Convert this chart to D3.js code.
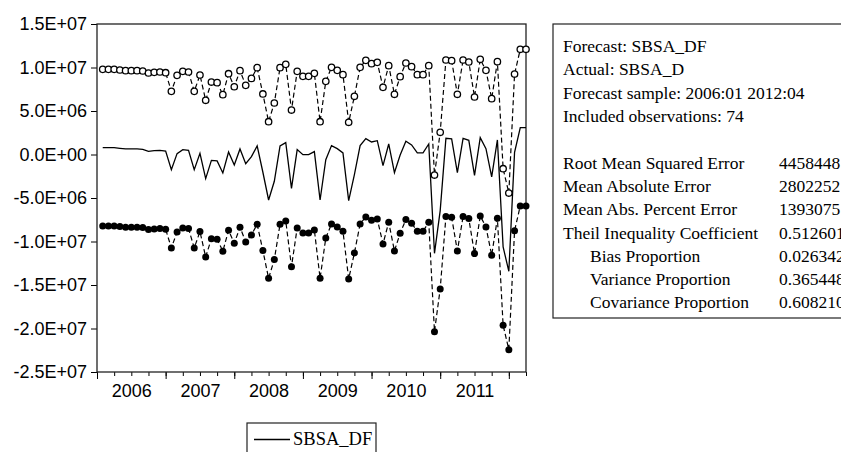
<!DOCTYPE html>
<html>
<head>
<meta charset="utf-8">
<script src="https://cdn.jsdelivr.net/npm/d3@7"></script>
<style>
  body { margin: 0; background: #fff; }
  svg { display: block; }
</style>
</head>
<body>
<div id="chart"></div>
<script>
// forecast sample runs 2006:01..2012:04, values start at 2006:02
const axisMonths = 76;
const firstObs = 1; // offset of first value from 2006:01
const years = [2006, 2007, 2008, 2009, 2010, 2011];

// SBSA_DF forecast
const forecast = [
  0.79e6, 0.79e6, 0.79e6, 0.71e6, 0.64e6, 0.64e6, 0.64e6, 0.60e6, 0.37e6, 0.44e6,
  0.48e6, 0.40e6, -1.74e6, 0.10e6, 0.56e6, 0.48e6, -1.74e6, 0.14e6, -2.77e6, -0.67e6,
  -0.74e6, -2.12e6, 0.29e6, -1.21e6, 0.64e6, -1.05e6, -0.25e6, 0.98e6, -2.04e6, -5.23e6,
  -3.08e6, 0.98e6, 1.36e6, -3.89e6, 0.56e6, -0.02e6, -0.02e6, 0.33e6, -5.23e6, -0.59e6,
  1.02e6, 0.67e6, 0.18e6, -5.30e6, -2.31e6, 1.02e6, 1.82e6, 1.44e6, 1.59e6, -1.28e6,
  1.21e6, -2.08e6, -0.05e6, 1.52e6, 1.10e6, 0.18e6, 0.18e6, 1.21e6, -11.36e6, -6.45e6,
  1.86e6, 1.79e6, -2.08e6, 1.86e6, 1.63e6, -2.39e6, 1.94e6, 0.67e6, -2.58e6, 1.67e6,
  -10.63e6, -13.43e6, 0.25e6, 3.09e6, 3.09e6
];

// upper band (+2 S.E.)
const upper = [
  9.79e6, 9.79e6, 9.79e6, 9.71e6, 9.64e6, 9.64e6, 9.64e6, 9.60e6, 9.37e6, 9.44e6,
  9.48e6, 9.40e6, 7.26e6, 9.10e6, 9.56e6, 9.48e6, 7.26e6, 9.14e6, 6.23e6, 8.33e6,
  8.26e6, 6.88e6, 9.29e6, 7.79e6, 9.64e6, 7.95e6, 8.75e6, 9.98e6, 6.96e6, 3.77e6,
  5.92e6, 9.98e6, 10.36e6, 5.11e6, 9.56e6, 8.98e6, 8.98e6, 9.33e6, 3.77e6, 8.41e6,
  10.02e6, 9.67e6, 9.18e6, 3.70e6, 6.69e6, 10.02e6, 10.82e6, 10.44e6, 10.59e6, 7.72e6,
  10.21e6, 6.92e6, 8.95e6, 10.52e6, 10.10e6, 9.18e6, 9.18e6, 10.21e6, -2.36e6, 2.55e6,
  10.86e6, 10.79e6, 6.92e6, 10.86e6, 10.63e6, 6.61e6, 10.94e6, 9.67e6, 6.42e6, 10.67e6,
  -1.63e6, -4.43e6, 9.25e6, 12.09e6, 12.09e6
];

// lower band (-2 S.E.)
const lower = [
  -8.21e6, -8.21e6, -8.21e6, -8.29e6, -8.36e6, -8.36e6, -8.36e6, -8.40e6, -8.63e6, -8.56e6,
  -8.52e6, -8.60e6, -10.74e6, -8.90e6, -8.44e6, -8.52e6, -10.74e6, -8.86e6, -11.77e6, -9.67e6,
  -9.74e6, -11.12e6, -8.71e6, -10.21e6, -8.36e6, -10.05e6, -9.25e6, -8.02e6, -11.04e6, -14.23e6,
  -12.08e6, -8.02e6, -7.64e6, -12.89e6, -8.44e6, -9.02e6, -9.02e6, -8.67e6, -14.23e6, -9.59e6,
  -7.98e6, -8.33e6, -8.82e6, -14.30e6, -11.31e6, -7.98e6, -7.18e6, -7.56e6, -7.41e6, -10.28e6,
  -7.79e6, -11.08e6, -9.05e6, -7.48e6, -7.90e6, -8.82e6, -8.82e6, -7.79e6, -20.36e6, -15.45e6,
  -7.14e6, -7.21e6, -11.08e6, -7.14e6, -7.37e6, -11.39e6, -7.06e6, -8.33e6, -11.58e6, -7.33e6,
  -19.63e6, -22.43e6, -8.75e6, -5.91e6, -5.91e6
];

const yTicks = [1.5e7, 1.0e7, 5e6, 0, -5e6, -1.0e7, -1.5e7, -2.0e7, -2.5e7];

const statsHead = [
  "Forecast: SBSA_DF",
  "Actual: SBSA_D",
  "Forecast sample: 2006:01 2012:04",
  "Included observations: 74"
];
const statsNames = [
  "Root Mean Squared Error", "Mean Absolute Error", "Mean Abs. Percent Error",
  "Theil Inequality Coefficient", "Bias Proportion", "Variance Proportion",
  "Covariance Proportion"
];
const statsValues = ["4458448", "2802252", "1393075", "0.512601", "0.026342", "0.365448", "0.608210"];

const W = 841, H = 452;
const plot = { left: 97, right: 526, top: 24, bottom: 372 };

const svg = d3.select("#chart").append("svg")
    .attr("width", W)
    .attr("height", H);

const x = d3.scaleLinear()
    .domain([0, axisMonths - 1])
    .range([plot.left, plot.right]);

const y = d3.scaleLinear()
    .domain([-2.5e7, 1.5e7])
    .range([plot.bottom, plot.top]);

function eviewsFmt(v) {
    if (v === 0) return "0.0E+00";
    let s = v.toExponential(1).toUpperCase(); // 1.5E+7
    return s.replace(/E([+-])(\d)$/, "E$10$2");
}

// y axis
const gy = svg.append("g")
    .attr("transform", `translate(${plot.left},0)`)
    .call(d3.axisLeft(y).tickValues(yTicks).tickSize(6).tickPadding(4).tickFormat(eviewsFmt));
gy.select(".domain").remove();
gy.selectAll("text")
    .attr("font-family", "Liberation Sans, Arial, sans-serif")
    .attr("font-size", 18)
    .attr("fill", "#000");
gy.selectAll("line").attr("stroke", "#000");

// x axis: quarterly minor ticks, yearly major ticks, year labels centred
const quarters = d3.range(0, axisMonths, 3);
const yearStarts = d3.range(0, axisMonths, 12);

const gxMinor = svg.append("g")
    .attr("transform", `translate(0,${plot.bottom})`)
    .call(d3.axisBottom(x).tickValues(quarters).tickSize(4).tickFormat(""));
gxMinor.select(".domain").remove();
gxMinor.selectAll("line").attr("stroke", "#000");

const gxMajor = svg.append("g")
    .attr("transform", `translate(0,${plot.bottom})`)
    .call(d3.axisBottom(x).tickValues(yearStarts).tickSize(7).tickFormat(""));
gxMajor.select(".domain").remove();
gxMajor.selectAll("line").attr("stroke", "#000");

const gxLab = svg.append("g")
    .attr("transform", `translate(0,${plot.bottom})`)
    .call(d3.axisBottom(x)
        .tickValues(years.map((yr, i) => i * 12 + 6))
        .tickSize(0).tickPadding(12)
        .tickFormat((d, i) => years[i]));
gxLab.select(".domain").remove();
gxLab.selectAll("text")
    .attr("font-family", "Liberation Sans, Arial, sans-serif")
    .attr("font-size", 18)
    .attr("fill", "#000");

// frame
svg.append("rect")
    .attr("x", plot.left)
    .attr("y", plot.top)
    .attr("width", plot.right - plot.left)
    .attr("height", plot.bottom - plot.top)
    .attr("fill", "none")
    .attr("stroke", "#222")
    .attr("stroke-width", 1.3);

const idx = (d, i) => x(firstObs + i);

const line = d3.line().x(idx).y(d => y(d));

const series = svg.append("g");

series.append("path")
    .datum(upper)
    .attr("d", line)
    .attr("fill", "none")
    .attr("stroke", "#000")
    .attr("stroke-width", 1.2)
    .attr("stroke-dasharray", "5,3");

series.append("path")
    .datum(lower)
    .attr("d", line)
    .attr("fill", "none")
    .attr("stroke", "#000")
    .attr("stroke-width", 1.2)
    .attr("stroke-dasharray", "5,3");

series.append("path")
    .datum(forecast)
    .attr("d", line)
    .attr("fill", "none")
    .attr("stroke", "#000")
    .attr("stroke-width", 1.3);

series.append("g").selectAll("circle")
    .data(upper)
    .join("circle")
    .attr("cx", idx)
    .attr("cy", d => y(d))
    .attr("r", 3.2)
    .attr("fill", "#fff")
    .attr("stroke", "#000")
    .attr("stroke-width", 1.3);

series.append("g").selectAll("circle")
    .data(lower)
    .join("circle")
    .attr("cx", idx)
    .attr("cy", d => y(d))
    .attr("r", 3.5)
    .attr("fill", "#000");

// stats table
const tbl = { left: 553, top: 24, rowH: 23.3, firstRow: 46 };
const tg = svg.append("g")
    .attr("font-family", "Liberation Serif, Times New Roman, serif")
    .attr("font-size", 17.5)
    .attr("fill", "#000");

tg.append("rect")
    .attr("x", tbl.left)
    .attr("y", tbl.top)
    .attr("width", 320)
    .attr("height", 294)
    .attr("fill", "none")
    .attr("stroke", "#222")
    .attr("stroke-width", 1.2);

tg.selectAll("text.head")
    .data(statsHead)
    .join("text")
    .attr("class", "head")
    .attr("x", 563)
    .attr("y", (d, i) => tbl.firstRow + i * tbl.rowH)
    .attr("dy", "0.35em")
    .text(d => d);

tg.selectAll("text.name")
    .data(statsNames)
    .join("text")
    .attr("class", "name")
    .attr("x", (d, i) => i >= 4 ? 590 : 563)
    .attr("y", (d, i) => tbl.firstRow + (i + 5) * tbl.rowH)
    .attr("dy", "0.35em")
    .text(d => d);

tg.selectAll("text.val")
    .data(statsValues)
    .join("text")
    .attr("class", "val")
    .attr("x", 779)
    .attr("y", (d, i) => tbl.firstRow + (i + 5) * tbl.rowH)
    .attr("dy", "0.35em")
    .text(d => d);

// legend
const lg = svg.append("g");
lg.append("rect")
    .attr("x", 247)
    .attr("y", 423)
    .attr("width", 129)
    .attr("height", 40)
    .attr("fill", "#fff")
    .attr("stroke", "#222")
    .attr("stroke-width", 1.2);
lg.append("line")
    .attr("x1", 254).attr("x2", 290)
    .attr("y1", 439.5).attr("y2", 439.5)
    .attr("stroke", "#000")
    .attr("stroke-width", 1.3);
lg.append("text")
    .attr("x", 293)
    .attr("y", 445)
    .attr("font-family", "Liberation Serif, Times New Roman, serif")
    .attr("font-size", 18.5)
    .attr("fill", "#000")
    .text("SBSA_DF");
</script>
</body>
</html>
